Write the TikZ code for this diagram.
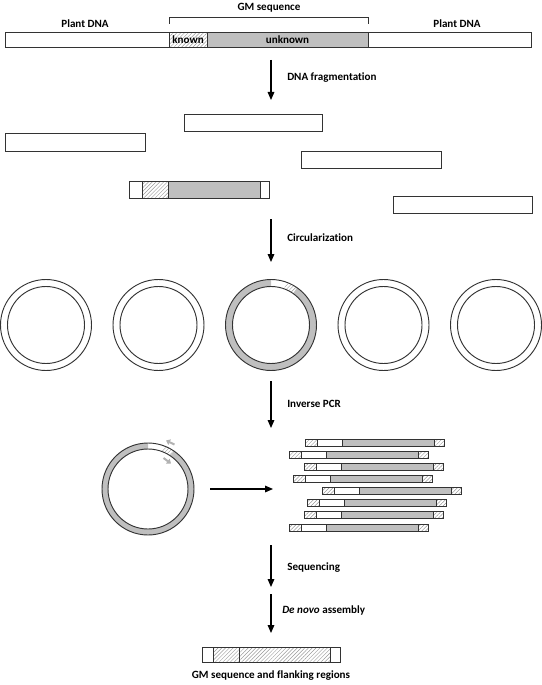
\documentclass[tikz,border=0pt]{standalone}
\usepackage{fontspec}
\setmainfont{Carlito}[Ligatures=NoCommon]
\usetikzlibrary{arrows.meta,patterns.meta,calc}
\begin{document}
\begin{tikzpicture}[x=0.75pt,y=-0.75pt,
  lbl/.style={font=\bfseries\fontsize{8.3}{10}\selectfont, inner sep=0pt},
  arr/.style={line width=0.8pt, -{Triangle[length=6pt,width=5pt]}},
  box/.style={draw=black!80, line width=0.7pt},
  hatch/.style={pattern={Lines[angle=45,distance=2pt,line width=0.35pt]}, pattern color=black!40},
  grayf/.style={fill=black!25},
  primer/.style={draw=black!30, line width=1.5pt, -{Triangle[length=3pt,width=4.5pt]}}
]
\useasboundingbox (0,0) rectangle (542,685);

% ---------- top bar ----------
\fill[hatch] (169,32.5) rectangle (207,47);
\fill[grayf] (207,32.5) rectangle (368,47);
\draw[box] (5,32.5) rectangle (531,47);
\draw[box] (169,32.5) -- (169,47) (207,32.5) -- (207,47) (368,32.5) -- (368,47);
\node[lbl] (known) at (188,40) {known};
\node[lbl] (unknown) at (287.5,40) {unknown};
\draw[line width=0.6pt, black!80] (169,24) -- (169,17.5) -- (368,17.5) -- (368,24);
\node[lbl] (gm) at (269,7.5) {GM sequence};
\node[lbl] (pl) at (85,23.5) {Plant DNA};
\node[lbl] (pr) at (457,23.5) {Plant DNA};

% ---------- arrow 1 ----------
\coordinate (a1s) at (271,60);
\coordinate (a1e) at (271,100);
\draw[arr] (a1s) -- (a1e);
\node[lbl, anchor=west] (t1) at (287,78) {DNA fragmentation};

% ---------- fragments ----------
\draw[box] (5,133.5) rectangle (145,151);
\draw[box] (184,114) rectangle (322,131);
\draw[box] (301,151) rectangle (441,168.5);
\draw[box] (393,196) rectangle (532,213);
\fill[hatch] (142,181) rectangle (168,198);
\fill[grayf] (168,181) rectangle (260,198);
\draw[box] (129,181) rectangle (269,198);
\draw[box] (142,181) -- (142,198) (168,181) -- (168,198) (260,181) -- (260,198);

% ---------- arrow 2 ----------
\coordinate (a2s) at (271,219);
\coordinate (a2e) at (271,262);
\draw[arr] (a2s) -- (a2e);
\node[lbl, anchor=west] (t2) at (287,238) {Circularization};

% ---------- circles ----------
\foreach \cx in {46,158.5,383.5,496}{
  \draw[box] (\cx,325) circle[radius=45.5];
  \draw[box] (\cx,325) circle[radius=38.5];
}
% circle with insert
\fill[grayf] (271,325) ++(-90:45.5) arc[start angle=-90,end angle=-415,radius=45.5]
   -- ($(271,325)+(-415:38.5)$) arc[start angle=-415,end angle=-90,radius=38.5] -- cycle;
\fill[hatch] (271,325) ++(-55:45.5) arc[start angle=-55,end angle=-70,radius=45.5]
   -- ($(271,325)+(-70:38.5)$) arc[start angle=-70,end angle=-55,radius=38.5] -- cycle;
\draw[box] (271,325) circle[radius=45.5];
\draw[box] (271,325) circle[radius=38.5];

% ---------- arrow 3 ----------
\coordinate (a3s) at (271,381);
\coordinate (a3e) at (271,428);
\draw[arr] (a3s) -- (a3e);
\node[lbl, anchor=west] (t3) at (287,404) {Inverse PCR};

% ---------- PCR circle ----------
\fill[grayf] (148,489) ++(-90:46) arc[start angle=-90,end angle=-416,radius=46]
   -- ($(148,489)+(-416:40)$) arc[start angle=-416,end angle=-90,radius=40] -- cycle;
\fill[hatch] (148,489) ++(-56:46) arc[start angle=-56,end angle=-70,radius=46]
   -- ($(148,489)+(-70:40)$) arc[start angle=-70,end angle=-56,radius=40] -- cycle;
\draw[box] (148,489) circle[radius=46];
\draw[box] (148,489) circle[radius=40];
\coordinate (p1s) at (174.5,444.5);
\coordinate (p1e) at (166,440.5);
\draw[primer] (p1s) -- (p1e);
\coordinate (p2s) at (163.5,458);
\coordinate (p2e) at (171,463.5);
\draw[primer] (p2s) -- (p2e);

\coordinate (hs) at (210,489);
\coordinate (he) at (273,489);
\draw[arr] (hs) -- (he);

% ---------- PCR products ----------
\newcommand\pcrbar[2]{%
  \fill[hatch] (#1,#2) rectangle ++(12.5,7);
  \fill[grayf] (#1+37.5,#2) rectangle ++(92,7);
  \fill[hatch] (#1+129.5,#2) rectangle ++(9.5,7);
  \draw[box] (#1,#2) rectangle ++(139,7);
  \draw[box] (#1+12.5,#2) -- ++(0,7) (#1+37.5,#2) -- ++(0,7) (#1+129.5,#2) -- ++(0,7);
}
\pcrbar{305}{439}
\pcrbar{289}{451}
\pcrbar{304}{463}
\pcrbar{293}{475}
\pcrbar{322}{487}
\pcrbar{307}{499}
\pcrbar{304}{511}
\pcrbar{289}{524}

% ---------- arrows 4,5 ----------
\coordinate (a4s) at (271,545);
\coordinate (a4e) at (271,587);
\draw[arr] (a4s) -- (a4e);
\node[lbl, anchor=west] (t4) at (287,568) {Sequencing};
\coordinate (a5s) at (271,594);
\coordinate (a5e) at (271,633);
\draw[arr] (a5s) -- (a5e);
\node[lbl, anchor=west] (t5) at (282,610) {\textit{De novo} assembly};

% ---------- final bar ----------
\fill[hatch] (213,647) rectangle (330,662);
\draw[box] (202,647) rectangle (340,662);
\draw[box] (213,647) -- (213,662) (239,647) -- (239,662) (330,647) -- (330,662);
\node[lbl] (fin) at (271,676) {GM sequence and flanking regions};
\end{tikzpicture}
\end{document}
